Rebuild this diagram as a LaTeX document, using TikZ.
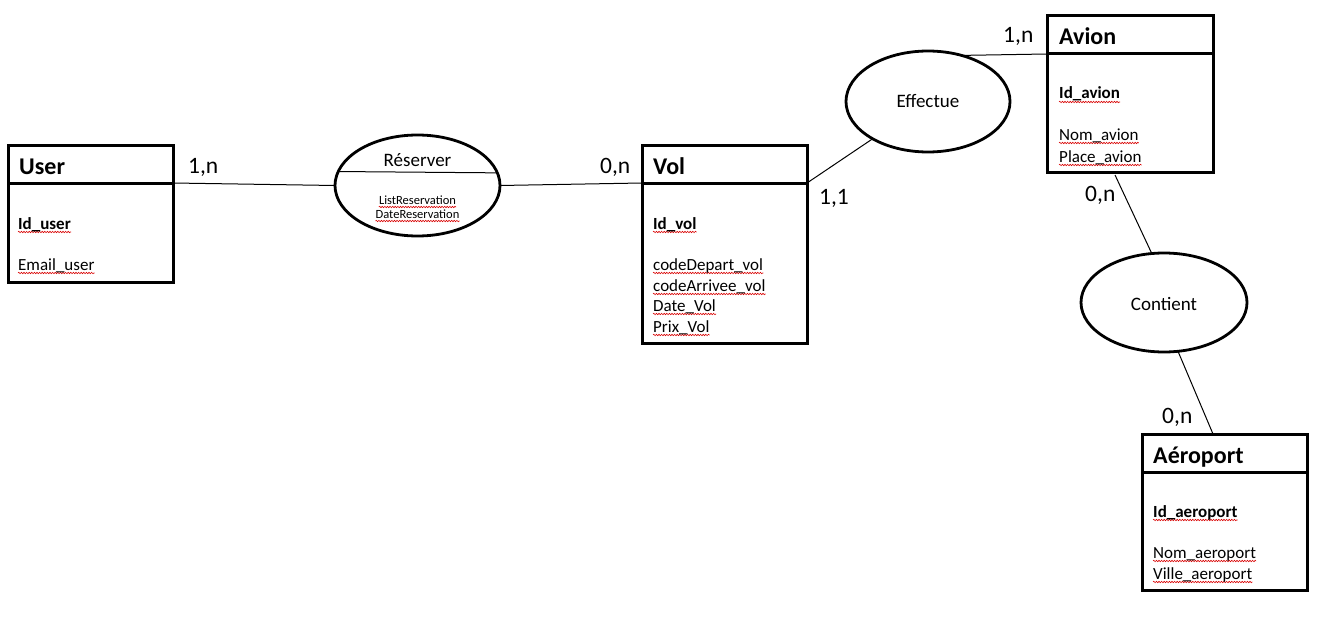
\documentclass[tikz,border=0pt]{standalone}
\usepackage{fontspec}
\setmainfont{Carlito}
\usetikzlibrary{shapes.geometric,decorations.pathmorphing,calc}
\tikzset{
  ent/.style={draw, rectangle, line width=3pt, inner sep=0, outer sep=0},
  rel/.style={draw, ellipse, line width=2.8pt, inner sep=0, outer sep=0},
  lnk/.style={line width=1pt},
  ttl/.style={anchor=base west, inner sep=0, font=\fontsize{24}{28}\selectfont\bfseries},
  wavy/.style={draw=red!85!black, line width=0.6pt, decorate, decoration={snake, amplitude=0.7pt, segment length=2.6pt}},
  squig/.style={append after command={\pgfextra{\draw[wavy] ([yshift=-3pt]\tikzlastnode.base west) -- ([yshift=-3pt]\tikzlastnode.base east);}}},
  attr/.style={anchor=base west, inner sep=0, font=\fontsize{17}{20}\selectfont, squig},
  keyattr/.style={attr, font=\fontsize{17}{20}\selectfont\bfseries},
  card/.style={anchor=base west, inner sep=0, font=\fontsize{23.5}{26}\selectfont},
  rlab/.style={anchor=base, inner sep=0, font=\fontsize{19}{22}\selectfont},
  small/.style={anchor=base, inner sep=0, font=\fontsize{12.5}{14}\selectfont, squig}
}
\begin{document}
\begin{tikzpicture}[x=1pt, y=-1pt]
\useasboundingbox (0,0) rectangle (1325,623);
% User
\node[ent, minimum width=165, minimum height=37] (userh) at (90.5,164.5) {};
\node[ent, minimum width=165, minimum height=99] (userb) at (90.5,232.5) {};
\node[ttl] (usert) at (19,175) {User};
\node[keyattr] (usera1) at (18,229) {Id\_user};
\node[attr] (usera2) at (18,270) {Email\_user};
% Vol
\node[ent, minimum width=165, minimum height=37] (volh) at (724.5,164.5) {};
\node[ent, minimum width=165, minimum height=160] (volb) at (724.5,263) {};
\node[ttl] (volt) at (653,175) {Vol};
\node[keyattr] (vola1) at (653,229) {Id\_vol};
\node[attr] (vola2) at (653,270) {codeDepart\_vol};
\node[attr] (vola3) at (653,291) {codeArrivee\_vol};
\node[attr] (vola4) at (653,311) {Date\_Vol};
\node[attr] (vola5) at (653,332) {Prix\_Vol};
% Avion
\node[ent, minimum width=166, minimum height=38] (avionh) at (1130,35) {};
\node[ent, minimum width=166, minimum height=118] (avionb) at (1130,113) {};
\node[ttl] (aviont) at (1059,45) {Avion};
\node[keyattr] (aviona1) at (1059,99) {Id\_avion};
\node[attr] (aviona2) at (1059,140) {Nom\_avion};
\node[attr] (aviona3) at (1059,162) {Place\_avion};
% Aeroport
\node[ent, minimum width=165, minimum height=38] (aeroh) at (1224.5,453) {};
\node[ent, minimum width=165, minimum height=118] (aerob) at (1224.5,531) {};
\node[ttl] (aerot) at (1153,463) {Aéroport};
\node[keyattr] (aeroa1) at (1153,517) {Id\_aeroport};
\node[attr] (aeroa2) at (1153,558) {Nom\_aeroport};
\node[attr] (aeroa3) at (1153,579) {Ville\_aeroport};
% Relations
\node[rel, minimum width=165, minimum height=101] (res) at (417.5,185.5) {};
\draw[lnk] (res.170.4) -- (res.9.6);
\node[rlab] (rest) at (417.5,166) {Réserver};
\node[small] (resa1) at (417.5,204) {ListReservation};
\node[small] (resa2) at (417.5,218) {DateReservation};
\node[rel, minimum width=164, minimum height=101] (eff) at (928,101.5) {};
\node[rlab] (efft) at (928,108) {Effectue};
\node[rel, minimum width=166, minimum height=99] (cont) at (1164,302.5) {};
\node[rlab] (contt) at (1164,310) {Contient};
% Connectors
\draw[lnk] (userh.south east) -- (res.west);
\draw[lnk] (res.east) -- (volh.south west);
\draw[lnk] (volh.south east) -- (eff);
\draw[lnk] (eff.54) -- (avionh.south west);
\draw[lnk] ([xshift=-15pt,yshift=-3pt]avionb.south) -- (cont.104);
\draw[lnk] (cont.-74) -- ([xshift=-11.5pt]aeroh.north);
% Cardinalities
\node[card] (c1) at (188,173) {1,n};
\node[card] (c2) at (600,173) {0,n};
\node[card] (c3) at (819,204) {1,1};
\node[card] (c4) at (1003,43) {1,n};
\node[card] (c5) at (1085,201) {0,n};
\node[card] (c6) at (1162,423) {0,n};
\end{tikzpicture}
\end{document}
